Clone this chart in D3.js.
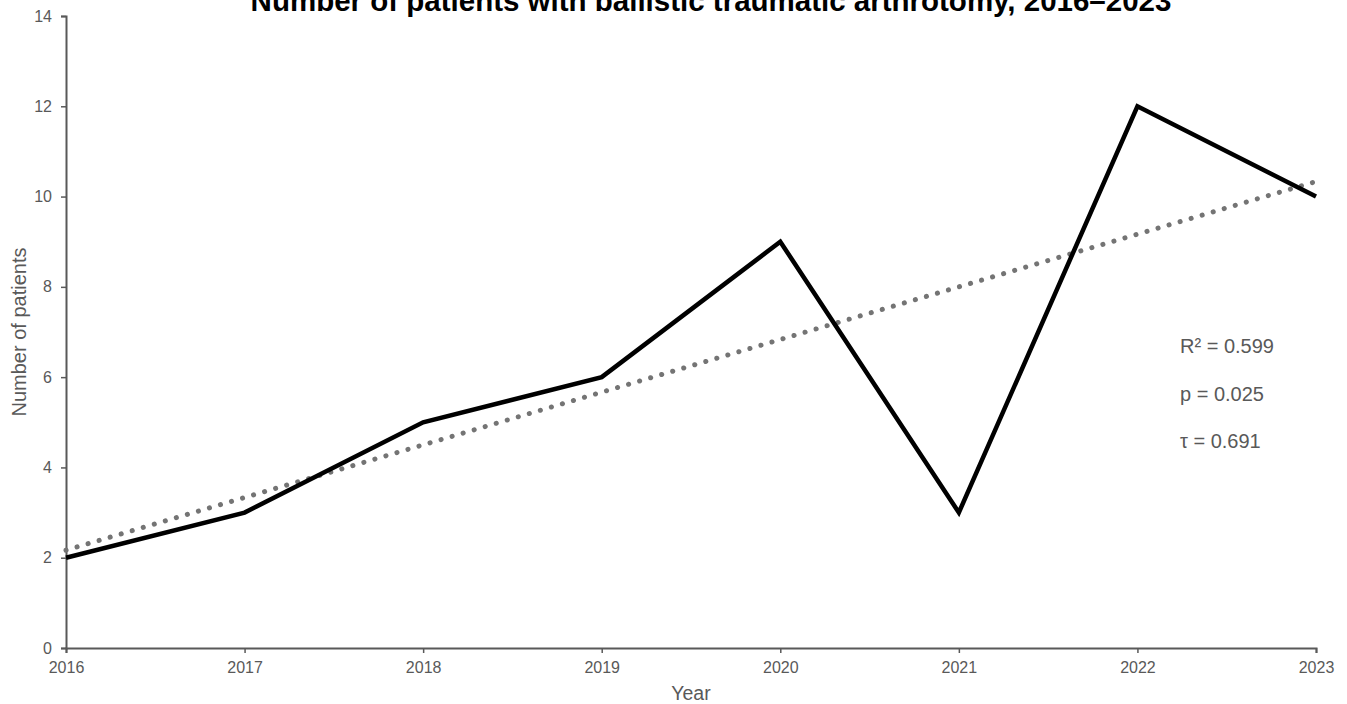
<!DOCTYPE html>
<html>
<head>
<meta charset="utf-8">
<script src="https://cdn.jsdelivr.net/npm/d3@7"></script>
<style>
  html, body { margin: 0; padding: 0; background: #fff; }
  svg { display: block; font-family: "Liberation Sans", Arial, sans-serif; }
</style>
</head>
<body>
<svg id="chart" width="1347" height="704"></svg>
<script>
const years = [2016, 2017, 2018, 2019, 2020, 2021, 2022, 2023];
const patients = [2, 3, 5, 6, 9, 3, 12, 10];
const yTicks = [0, 2, 4, 6, 8, 10, 12, 14];
const stats = ["R² = 0.599", "p = 0.025", "τ = 0.691"];

const svg = d3.select("#chart"),
      margin = {top: 16, right: 31, bottom: 56, left: 66},
      width = svg.attr("width") - margin.left - margin.right,
      height = svg.attr("height") - margin.top - margin.bottom;

const g = svg.append("g")
             .attr("transform", `translate(${margin.left},${margin.top})`);

const x = d3.scaleLinear()
            .domain(d3.extent(years))
            .range([0, width]);

const y = d3.scaleLinear()
            .domain([0, 14])
            .range([height, 0]);

// least squares trend
const mx = d3.mean(years), my = d3.mean(patients);
const slope = d3.sum(years, (d, i) => (d - mx) * (patients[i] - my)) /
              d3.sum(years, d => (d - mx) * (d - mx));
const trend = d => my + slope * (d - mx);

// Axes
const xAxis = g.append("g")
 .attr("transform", `translate(0,${height})`)
 .call(d3.axisBottom(x).tickValues(years).tickFormat(d3.format("d")).tickSize(5).tickPadding(9));

const yAxis = g.append("g")
 .call(d3.axisLeft(y).tickValues(yTicks).tickSize(5).tickPadding(9));

[xAxis, yAxis].forEach(a => {
  a.select(".domain").attr("stroke", "#595959").attr("stroke-width", 2);
  a.selectAll(".tick line").attr("stroke", "#595959").attr("stroke-width", 1.5);
  a.selectAll(".tick text")
   .attr("fill", "#595959")
   .style("font-size", "16px")
   .style("font-family", "'Liberation Sans', Arial, sans-serif");
});

// Trend line
g.append("path")
 .datum(d3.extent(years))
 .attr("fill", "none")
 .attr("stroke", "#747474")
 .attr("stroke-width", 5)
 .attr("stroke-linecap", "round")
 .attr("stroke-dasharray", "0.1 11.4")
 .attr("d", d3.line().x(d => x(d)).y(d => y(trend(d))));

// Data line
g.append("path")
 .datum(years)
 .attr("fill", "none")
 .attr("stroke", "#000")
 .attr("stroke-width", 4.5)
 .attr("stroke-linejoin", "miter")
 .attr("d", d3.line().x(d => x(d)).y((d, i) => y(patients[i])));

// Stats
g.selectAll(".stat")
 .data(stats)
 .enter()
 .append("text")
 .attr("class", "stat")
 .attr("x", 1180 - margin.left)
 .attr("y", (d, i) => 353 - margin.top + i * 47.5)
 .attr("fill", "#595959")
 .style("font-size", "20px")
 .text(d => d);

// Axis labels
g.append("text")
.attr("x", width / 2)
.attr("y", height + 52)
.attr("text-anchor", "middle")
.attr("fill", "#595959")
.style("font-size", "19.5px")
.text("Year");

g.append("text")
.attr("transform", "rotate(-90)")
.attr("x", -height / 2)
.attr("y", -40)
.attr("text-anchor", "middle")
.attr("fill", "#595959")
.style("font-size", "20px")
.text("Number of patients");

// Title
svg.append("text")
.attr("x", 711)
.attr("y", 11)
.attr("text-anchor", "middle")
.attr("fill", "#000")
.style("font-size", "29.5px")
.style("font-weight", "bold")
.text("Number of patients with ballistic traumatic arthrotomy, 2016–2023");
</script>
</body>
</html>
